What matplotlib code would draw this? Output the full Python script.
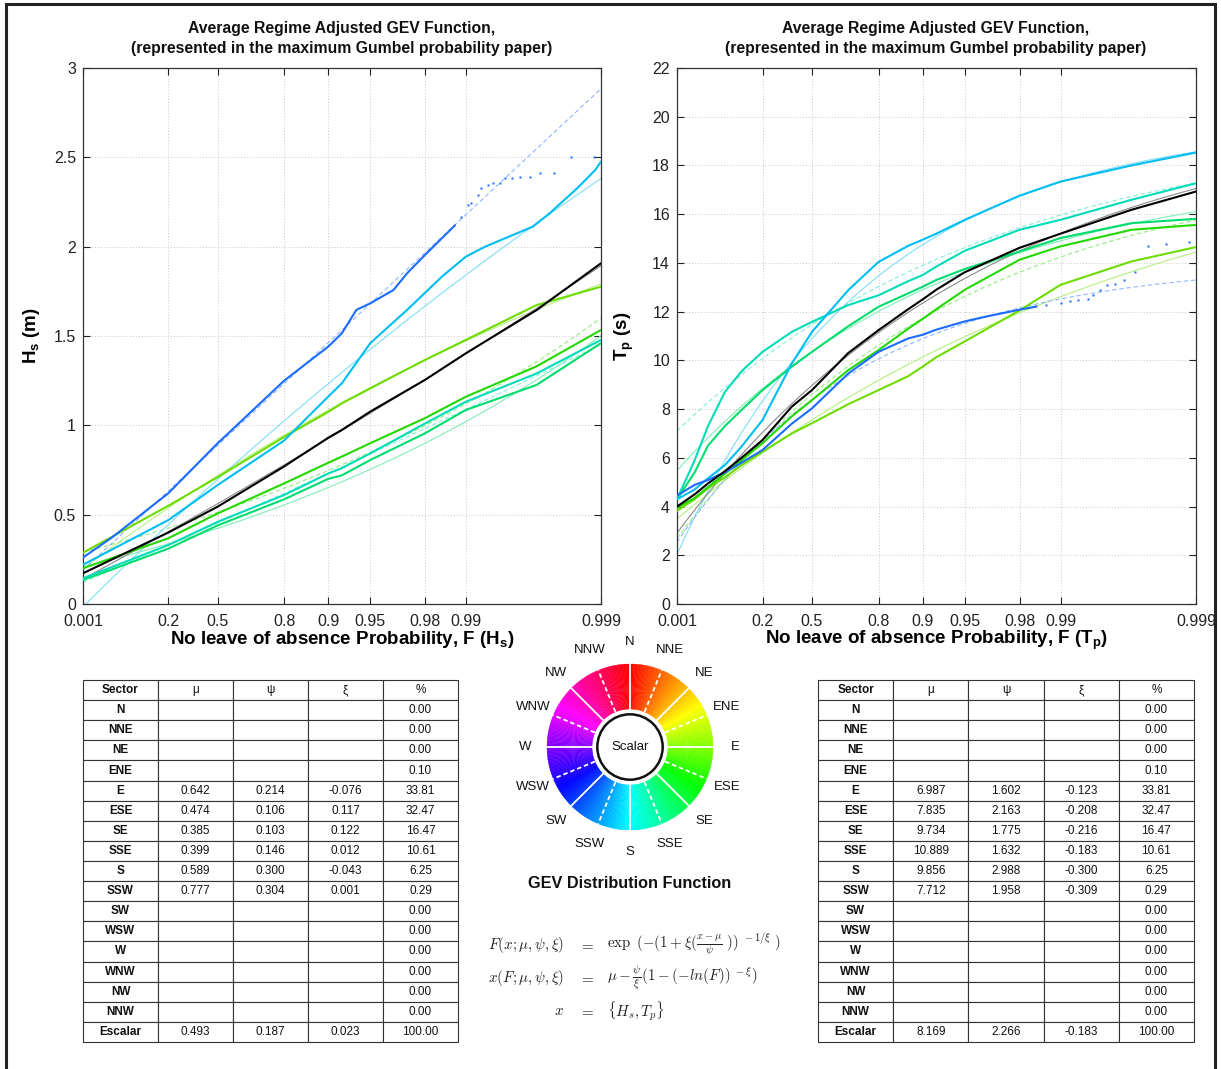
import numpy as np
import matplotlib
matplotlib.use('Agg')
import matplotlib.pyplot as plt
from matplotlib.patches import Wedge, Circle, Rectangle
from matplotlib.colors import hsv_to_rgb, to_rgb

plt.rcParams['font.family'] = ['Liberation Sans', 'DejaVu Sans']
plt.rcParams['mathtext.fontset'] = 'custom'
plt.rcParams['mathtext.rm'] = 'Liberation Sans'
plt.rcParams['mathtext.it'] = 'Liberation Sans:italic'
plt.rcParams['mathtext.bf'] = 'Liberation Sans:bold'

# ---------------- data ----------------
sectors = ['N', 'NNE', 'NE', 'ENE', 'E', 'ESE', 'SE', 'SSE',
           'S', 'SSW', 'SW', 'WSW', 'W', 'WNW', 'NW', 'NNW']
row_names = sectors + ['Escalar']
pct = [0.00, 0.00, 0.00, 0.10, 33.81, 32.47, 16.47, 10.61,
       6.25, 0.29, 0.00, 0.00, 0.00, 0.00, 0.00, 0.00, 100.00]

hs_mu = [None] * 4 + [0.642, 0.474, 0.385, 0.399, 0.589, 0.777] + [None] * 6 + [0.493]
hs_psi = [None] * 4 + [0.214, 0.106, 0.103, 0.146, 0.300, 0.304] + [None] * 6 + [0.187]
hs_xi = [None] * 4 + [-0.076, 0.117, 0.122, 0.012, -0.043, 0.001] + [None] * 6 + [0.023]
tp_mu = [None] * 4 + [6.987, 7.835, 9.734, 10.889, 9.856, 7.712] + [None] * 6 + [8.169]
tp_psi = [None] * 4 + [1.602, 2.163, 1.775, 1.632, 2.988, 1.958] + [None] * 6 + [2.266]
tp_xi = [None] * 4 + [-0.123, -0.208, -0.216, -0.183, -0.300, -0.309] + [None] * 6 + [-0.183]

tick_probs = [0.001, 0.2, 0.5, 0.8, 0.9, 0.95, 0.98, 0.99, 0.999]
tick_labels = ['0.001', '0.2', '0.5', '0.8', '0.9', '0.95', '0.98', '0.99', '0.999']

# empirical curves, Hs (m)
hs_F = [0.001, 0.2, 0.5, 0.8, 0.9, 0.92, 0.95, 0.98, 0.99, 0.997, 0.999]
hs_E = [0.287, 0.55, 0.71, 0.935, 1.075, 1.123, 1.207, 1.366, 1.478, 1.673, 1.776]
hs_ESE = [0.20, 0.368, 0.507, 0.675, 0.79, 0.825, 0.90, 1.04, 1.16, 1.33, 1.534]
hs_SE = [0.134, 0.31, 0.44, 0.586, 0.70, 0.72, 0.806, 0.955, 1.086, 1.226, 1.46]
hs_SSE = [0.144, 0.33, 0.46, 0.61, 0.73, 0.76, 0.843, 1.01, 1.132, 1.29, 1.478]
hs_Escalar = [0.172, 0.40, 0.545, 0.77, 0.93, 0.974, 1.077, 1.254, 1.403, 1.645, 1.907]
hs_S_F = [0.001, 0.2, 0.5, 0.8, 0.9, 0.92, 0.95, 0.973, 0.985, 0.99, 0.9928,
          0.9952, 0.9968, 0.9976, 0.9985, 0.9989, 0.999]
hs_S = [0.22, 0.47, 0.666, 0.915, 1.16, 1.235, 1.46, 1.646, 1.832, 1.944, 2.0,
        2.056, 2.112, 2.187, 2.327, 2.43, 2.476]
hs_SSW_F = [0.001, 0.016, 0.2, 0.5, 0.8, 0.9, 0.92, 0.937, 0.95, 0.966, 0.973, 0.98, 0.988]
hs_SSW = [0.26, 0.377, 0.62, 0.90, 1.25, 1.44, 1.515, 1.646, 1.683, 1.757, 1.851, 1.953, 2.12]
hs_SSW_dots_F = [0.98918, 0.99035, 0.99089, 0.99186, 0.99233, 0.99315, 0.99372, 0.99439,
                 0.99486, 0.99542, 0.99603, 0.99665, 0.99718, 0.99776, 0.99832, 0.99888]
hs_SSW_dots = [2.168, 2.233, 2.243, 2.289, 2.326, 2.345, 2.354, 2.354,
               2.382, 2.382, 2.39, 2.39, 2.41, 2.414, 2.50, 2.50]

# empirical curves, Tp (s)
tp_F = [0.001, 0.006, 0.017, 0.047, 0.1, 0.2, 0.376, 0.5, 0.688, 0.8, 0.874,
        0.9, 0.92, 0.95, 0.98, 0.99, 0.997, 0.999]
tp_E = [3.82, 4.3, 4.75, 5.2, 5.7, 6.25, 7.0, 7.42, 8.2, 8.78, 9.35, 9.74, 10.13,
        10.78, 12.05, 13.1, 14.06, 14.65]
tp_ESE = [3.95, 4.35, 4.8, 5.35, 5.9, 6.6, 7.7, 8.37, 9.6, 10.42, 11.3, 11.7, 12.1,
          12.9, 14.13, 14.68, 15.36, 15.56]
tp_SE = [4.3, 5.4, 6.5, 7.3, 7.96, 8.78, 9.74, 10.35, 11.4, 12.2, 12.75, 13.02, 13.3,
         13.75, 14.47, 15.02, 15.63, 15.81]
tp_SSE = [4.3, 5.9, 7.3, 8.7, 9.55, 10.35, 11.17, 11.58, 12.27, 12.67, 13.25, 13.5,
          13.85, 14.5, 15.36, 15.77, 16.59, 17.27]
tp_S = [4.3, 4.7, 5.16, 5.7, 6.46, 7.55, 9.87, 11.17, 12.88, 14.04, 14.7, 14.95, 15.2,
        15.77, 16.76, 17.34, 18.0, 18.53]
tp_Escalar = [4.0, 4.5, 4.95, 5.45, 6.0, 6.73, 8.1, 8.78, 10.3, 11.24, 12.1, 12.5, 12.9,
              13.62, 14.62, 15.2, 16.18, 16.93]
tp_SSW_F = [0.001, 0.006, 0.017, 0.047, 0.1, 0.2, 0.376, 0.5, 0.688, 0.8, 0.874, 0.9,
            0.92, 0.95, 0.965, 0.98, 0.985]
tp_SSW = [4.45, 4.89, 5.09, 5.4, 5.8, 6.32, 7.4, 8.03, 9.46, 10.35, 10.9, 11.05,
          11.26, 11.6, 11.8, 12.08, 12.21]
tp_SSW_dots_F = [0.98723, 0.99013, 0.99144, 0.99258, 0.99374, 0.99425, 0.99487, 0.99543,
                 0.99604, 0.99657, 0.99719, 0.99773, 0.99832, 0.99888]
tp_SSW_dots = [12.28, 12.35, 12.42, 12.49, 12.51, 12.69, 12.87, 13.10,
               13.14, 13.31, 13.62, 14.68, 14.77, 14.85]

sector_colors = {'E': '#6edc00', 'ESE': '#22d800', 'SE': '#00dc6e', 'SSE': '#00dcb8',
                 'S': '#00bdf2', 'SSW': '#1c6cff', 'Escalar': '#000000'}
fit_dashed = {'ESE', 'SSE', 'SSW'}

# ---------------- helpers ----------------
W, H = 1221, 1069
fig = plt.figure(figsize=(W / 100, H / 100), dpi=100)


def fx(px):
    return px / W


def fy(py):
    return 1 - py / H


def red(F):
    return -np.log(-np.log(np.asarray(F, float)))


def gev_x(F, mu, psi, xi):
    return mu - psi / xi * (1 - (-np.log(F)) ** (-xi))


def lighten(c, a=0.55):
    r = np.array(to_rgb(c))
    return tuple(r + (1 - r) * a)


F_eval = np.exp(-np.exp(-np.linspace(red(0.001), red(0.999), 300)))


def draw_panel(ax, mus, psis, xis, curves, dots, ylim, yticks, ylab, xlab):
    # fitted GEV lines (thin, light)
    for name, m, p, x in zip(row_names, mus, psis, xis):
        if m is None:
            continue
        c = sector_colors[name]
        lc = '#8a8a8a' if name == 'Escalar' else lighten(c, 0.5)
        ax.plot(red(F_eval), gev_x(F_eval, m, p, x), color=lc, lw=0.8,
                ls=(0, (4, 2.5)) if name in fit_dashed else '-', zorder=2)
    # empirical lines (thick)
    for name, (F, v) in curves.items():
        ax.plot(red(F), v, color=sector_colors[name], lw=1.5,
                zorder=3 if name != 'Escalar' else 4, solid_capstyle='round',
                solid_joinstyle='round')
    dF, dv = dots
    ax.plot(red(dF), dv, ls='none', marker='s', ms=1.6, mec='none',
            color=sector_colors['SSW'], zorder=3)

    ax.set_xlim(red(0.001), red(0.999))
    ax.set_xticks(red(tick_probs))
    ax.set_xticklabels(tick_labels)
    ax.set_ylim(*ylim)
    ax.set_yticks(yticks)
    ax.set_yticklabels([('%g' % t) for t in yticks])
    ax.grid(True, ls=(0, (1, 2)), color='#c8c8c8', lw=0.7)
    ax.tick_params(direction='in', top=True, right=True, length=5, width=0.8,
                   labelsize=11.5, colors='#222222')
    ax.tick_params(axis='x', pad=7)
    ax.tick_params(axis='y', pad=5)
    for s in ax.spines.values():
        s.set_color('#333333')
        s.set_linewidth(0.9)
    ax.set_ylabel(ylab, fontsize=13.5, fontweight='bold')
    ax.set_xlabel(xlab, fontsize=13.5, fontweight='bold')


ax1 = fig.add_axes([fx(83), fy(604), fx(601) - fx(83), fy(68) - fy(604)])
draw_panel(ax1, hs_mu, hs_psi, hs_xi,
           {'E': (hs_F, hs_E), 'ESE': (hs_F, hs_ESE), 'SE': (hs_F, hs_SE),
            'SSE': (hs_F, hs_SSE), 'S': (hs_S_F, hs_S), 'SSW': (hs_SSW_F, hs_SSW),
            'Escalar': (hs_F, hs_Escalar)},
           (hs_SSW_dots_F, hs_SSW_dots), (0, 3), [0, 0.5, 1, 1.5, 2, 2.5, 3],
           r'H$_\mathbf{s}$ (m)', r'No leave of absence Probability, F (H$_\mathbf{s}$)')
ax1.yaxis.set_label_coords(-0.08, 0.5)
ax1.xaxis.set_label_coords(0.5, -0.047)

ax2 = fig.add_axes([fx(677), fy(604), fx(1196) - fx(677), fy(68) - fy(604)])
draw_panel(ax2, tp_mu, tp_psi, tp_xi,
           {'E': (tp_F, tp_E), 'ESE': (tp_F, tp_ESE), 'SE': (tp_F, tp_SE),
            'SSE': (tp_F, tp_SSE), 'S': (tp_F, tp_S), 'SSW': (tp_SSW_F, tp_SSW),
            'Escalar': (tp_F, tp_Escalar)},
           (tp_SSW_dots_F, tp_SSW_dots), (0, 22), list(range(0, 23, 2)),
           r'T$_\mathbf{p}$ (s)', r'No leave of absence Probability, F (T$_\mathbf{p}$)')
ax2.yaxis.set_label_coords(-0.079, 0.5)
ax2.xaxis.set_label_coords(0.5, -0.047)

for cx in (342, 936):
    fig.text(fx(cx), fy(28), 'Average Regime Adjusted GEV Function,', ha='center', va='center',
             fontsize=11.3, fontweight='bold', color='#111111')
    fig.text(fx(cx), fy(49), '(represented in the maximum Gumbel probability paper)',
             ha='center', va='center', fontsize=11.3, fontweight='bold', color='#111111')


# ---------------- tables ----------------
def fmt(v):
    return '' if v is None else '%.3f' % v


def draw_table(x0, x1, mus, psis, xis):
    ax = fig.add_axes([fx(x0), fy(1042), fx(x1) - fx(x0), (1042 - 680) / H])
    ax.axis('off')
    rows = [[n, fmt(m), fmt(p), fmt(x), '%.2f' % pc]
            for n, m, p, x, pc in zip(row_names, mus, psis, xis, pct)]
    tab = ax.table(cellText=rows, colLabels=['Sector', 'μ', 'ψ', 'ξ', '%'],
                   cellLoc='center', bbox=[0, 0, 1, 1])
    tab.auto_set_font_size(False)
    tab.set_fontsize(8.5)
    for (r, c), cell in tab.get_celld().items():
        cell.set_edgecolor('#333333')
        cell.set_linewidth(0.8)
        cell.get_text().set_color('#111111')
        if c == 0:
            cell.get_text().set_fontweight('bold')


draw_table(83, 458, hs_mu, hs_psi, hs_xi)
draw_table(818, 1194, tp_mu, tp_psi, tp_xi)

# ---------------- colour wheel legend ----------------
axw = fig.add_axes([fx(500), fy(877), 260 / W, 260 / H])
axw.set_xlim(-130, 130)
axw.set_ylim(-130, 130)
axw.axis('off')
for deg in np.arange(0, 360, 1.0):
    col = hsv_to_rgb((deg / 360.0, 1.0, 1.0))
    axw.add_patch(Wedge((0, 0), 83, 90 - deg - 0.6, 90 - deg + 0.6, width=45,
                        facecolor=col, edgecolor=col, lw=0.2))
for k, name in enumerate(sectors):
    th = np.deg2rad(k * 22.5)
    dx, dy = np.sin(th), np.cos(th)
    axw.plot([38 * dx, 83 * dx], [38 * dy, 83 * dy], color='white', lw=1.3,
             ls='-' if k % 2 == 0 else (0, (2.5, 1.6)))
    axw.text(105 * dx, 105 * dy, name, ha='center', va='center', fontsize=9.5, color='#111111')
axw.add_patch(Circle((0, 0), 32.7, facecolor='white', edgecolor='#111111', lw=1.8))
axw.text(0, 0, 'Scalar', ha='center', va='center', fontsize=9.5, color='#111111')

fig.text(fx(630), fy(884), 'GEV Distribution Function', ha='center', va='center',
         fontsize=11.7, fontweight='bold', color='#111111')

# formulas
lhs = [r'$F(x;\mu,\psi,\xi)$', r'$x(F;\mu,\psi,\xi)$', r'$x$']
rhs = [r'$\exp\ (-(1+\xi(\frac{x-\mu}{\psi}\ ))^{\ -1/\xi}\ )$',
       r'$\mu-\frac{\psi}{\xi}(1-(-ln(F))^{\ -\xi})$',
       r'$\{H_s,T_p\}$']
for i, yy in enumerate([945, 978, 1011]):
    fig.text(fx(564), fy(yy), lhs[i], ha='right', va='center', fontsize=10.8, math_fontfamily='cm',
             color='#222222')
    fig.text(fx(587), fy(yy), r'$=$', ha='center', va='center', fontsize=10.8, math_fontfamily='cm',
             color='#222222')
    fig.text(fx(607), fy(yy), rhs[i], ha='left', va='center', fontsize=10.8, math_fontfamily='cm',
             color='#222222')

# window frame
fig.add_artist(Rectangle((fx(5.5), -0.05), fx(1215) - fx(5.5), fy(4) + 0.05,
                         transform=fig.transFigure, fill=False, lw=2.2, edgecolor='#222222'))

fig.savefig('out.png', dpi=100)
